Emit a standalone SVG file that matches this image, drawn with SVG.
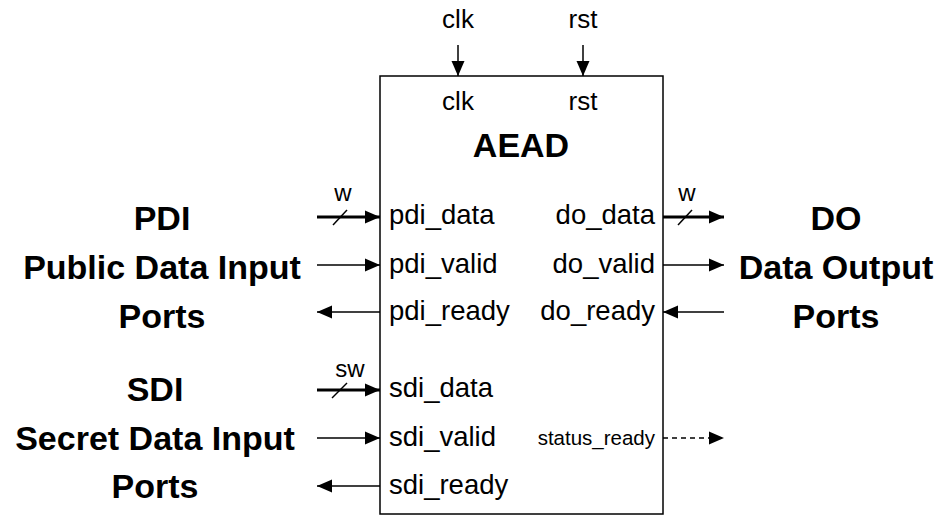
<svg xmlns="http://www.w3.org/2000/svg" width="940" height="516" viewBox="0 0 940 516">
<style>
.t{font-family:"Liberation Sans",Arial,sans-serif;fill:#000}
.port{font-size:27.5px}
.big{font-size:34px;font-weight:bold;text-anchor:middle}
.small{font-size:24px;text-anchor:middle}
.lbl{font-size:26px;text-anchor:middle}
.w{stroke:#000;stroke-width:1.5;fill:none}
.bus{stroke:#000;stroke-width:3;fill:none}
.dash{stroke:#000;stroke-width:1.5;fill:none;stroke-dasharray:5 4}
</style>
<defs>
<marker id="ah" markerUnits="userSpaceOnUse" markerWidth="16" markerHeight="16" viewBox="0 0 16 16" refX="15" refY="8" orient="auto">
<path d="M0,1.5 L15,8 L0,14.5 Z" fill="#000"/>
</marker>
</defs>
<rect width="940" height="516" fill="#fff"/>
<g id="aead">
<rect x="380" y="76" width="283" height="438" fill="#fff" stroke="#000" stroke-width="1.5"/>
<text class="t lbl" x="458" y="110">clk</text>
<text class="t lbl" x="583" y="110">rst</text>
<text class="t big" x="521" y="157">AEAD</text>
<text class="t port" x="389" y="224">pdi_data</text>
<text class="t port" x="389" y="273">pdi_valid</text>
<text class="t port" x="389" y="320">pdi_ready</text>
<text class="t port" x="389" y="397">sdi_data</text>
<text class="t port" x="389" y="446">sdi_valid</text>
<text class="t port" x="389" y="494">sdi_ready</text>
<text class="t port" x="655" y="224" text-anchor="end">do_data</text>
<text class="t port" x="655" y="273" text-anchor="end">do_valid</text>
<text class="t port" x="655" y="320" text-anchor="end">do_ready</text>
<text class="t" x="655" y="445" text-anchor="end" style="font-size:20.5px">status_ready</text>
</g>
<g id="pdi">
<text class="t big" x="162" y="230">PDI</text>
<text class="t big" x="162" y="279">Public Data Input</text>
<text class="t big" x="162" y="328">Ports</text>
</g>
<g id="sdi">
<text class="t big" x="155" y="401">SDI</text>
<text class="t big" x="155" y="450">Secret Data Input</text>
<text class="t big" x="155" y="498">Ports</text>
</g>
<g id="do">
<text class="t big" x="836" y="230">DO</text>
<text class="t big" x="836" y="279">Data Output</text>
<text class="t big" x="836" y="328">Ports</text>
</g>
<g id="clk">
<text class="t lbl" x="458" y="28">clk</text>
</g>
<g id="rst">
<text class="t lbl" x="583" y="28">rst</text>
</g>
<g id="connectors">
<line class="w" x1="458" y1="45" x2="458" y2="76" marker-end="url(#ah)"/>
<line class="w" x1="583" y1="45" x2="583" y2="76" marker-end="url(#ah)"/>
<line class="bus" x1="317" y1="217" x2="380" y2="217" marker-end="url(#ah)"/>
<line class="w" x1="333" y1="225" x2="347" y2="210"/>
<text class="t small" x="343" y="201">w</text>
<line class="w" x1="317" y1="265" x2="380" y2="265" marker-end="url(#ah)"/>
<line class="w" x1="380" y1="312" x2="317" y2="312" marker-end="url(#ah)"/>
<line class="bus" x1="317" y1="390" x2="380" y2="390" marker-end="url(#ah)"/>
<line class="w" x1="332" y1="398" x2="347" y2="383"/>
<text class="t small" x="350" y="377">sw</text>
<line class="w" x1="317" y1="438" x2="380" y2="438" marker-end="url(#ah)"/>
<line class="w" x1="380" y1="486" x2="317" y2="486" marker-end="url(#ah)"/>
<line class="bus" x1="663" y1="217" x2="724" y2="217" marker-end="url(#ah)"/>
<line class="w" x1="678" y1="225" x2="692" y2="210"/>
<text class="t small" x="687" y="201">w</text>
<line class="w" x1="663" y1="265" x2="724" y2="265" marker-end="url(#ah)"/>
<line class="w" x1="724" y1="312" x2="663" y2="312" marker-end="url(#ah)"/>
<line class="dash" x1="663" y1="438" x2="724" y2="438" marker-end="url(#ah)"/>
</g>
</svg>
